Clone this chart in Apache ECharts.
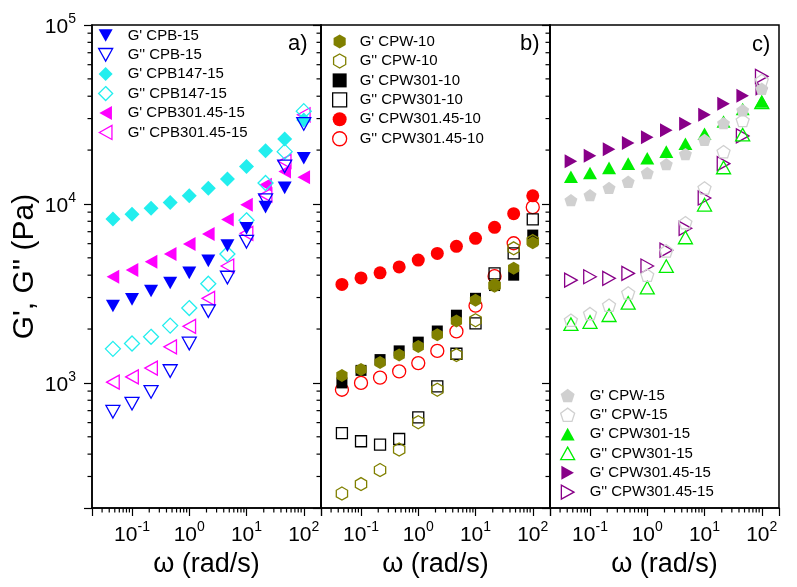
<!DOCTYPE html>
<html>
<head>
<meta charset="utf-8">
<script src="https://cdn.jsdelivr.net/npm/echarts@6/dist/echarts.min.js"></script>
<style>html,body{margin:0;padding:0;background:#fff}#c{width:797px;height:587px}</style>
</head>
<body>
<div id="c"></div>
<script>
// ---- data ----
const omega = [0.0464, 0.1, 0.215, 0.464, 1, 2.15, 4.64, 10, 21.5, 46.4, 100];

// panel a
const gp_CPB15       = [2690, 2930, 3260, 3620, 4120, 4810, 5850, 7300, 9600, 12300, 18000];
const gpp_CPB15      = [690, 765, 890, 1165, 1660, 2520, 3880, 6150, 10500, 16200, 28000];
const gp_CPB147_15   = [8240, 8750, 9460, 10200, 11100, 12250, 13800, 16200, 19800, 23100, 29500];
const gpp_CPB147_15  = [1550, 1660, 1810, 2090, 2620, 3580, 5250, 8100, 13100, 19600, 33000];
const gp_CPB301_45_15  = [3920, 4270, 4750, 5250, 5970, 6800, 8200, 9900, 12800, 15200, 14100];
const gpp_CPB301_45_15 = [1010, 1080, 1210, 1590, 2070, 2970, 4500, 6850, 11200, 17300, 31500];

// panel b
const gp_CPW10        = [1100, 1190, 1300, 1430, 1600, 1860, 2220, 2900, 3520, 4370, 6070];
const gpp_CPW10       = [241, 272, 326, 424, 603, 916, 1430, 2240, 3500, 5650, 6200];
const gp_CPW301_10    = [1000, 1175, 1350, 1510, 1690, 1950, 2390, 2970, 3500, 4000, 6700];
const gpp_CPW301_10   = [524, 472, 452, 486, 642, 956, 1455, 2150, 4090, 5290, 8200];
const gp_CPW301_45_10  = [3550, 3860, 4120, 4450, 4860, 5290, 5800, 6430, 7400, 8830, 11100];
const gpp_CPW301_45_10 = [916, 1000, 1070, 1160, 1290, 1510, 1940, 2700, 3950, 6030, 9600];

// panel c
const gp_CPW15        = [10500, 11200, 12300, 13300, 14900, 16700, 19000, 22800, 28300, 33400, 44000];
const gpp_CPW15       = [2240, 2440, 2720, 3180, 4000, 5470, 7860, 12300, 19600, 29300, 49000];
const gp_CPW301_15    = [14200, 14900, 15900, 16800, 18000, 19600, 21700, 24700, 28900, 33900, 37400];
const gpp_CPW301_15   = [2130, 2190, 2390, 2800, 3410, 4500, 6500, 9900, 16000, 24400, 37000];
const gp_CPW301_45_15  = [17300, 18600, 20200, 21900, 23600, 25800, 28100, 31500, 36300, 40300, 44000];
const gpp_CPW301_45_15 = [3750, 3920, 3840, 4090, 4500, 5520, 7310, 10800, 16800, 24000, 51600];

// axes
const xMin = 0.02, xMax = 200;
const yMin = 200, yMax = 100000;
const xMinorTicks = [0.03,0.04,0.05,0.06,0.07,0.08,0.09, 0.2,0.3,0.4,0.5,0.6,0.7,0.8,0.9, 2,3,4,5,6,7,8,9, 20,30,40,50,60,70,80,90];
const yMinorTicks = [300,400,500,600,700,800,900, 2000,3000,4000,5000,6000,7000,8000,9000, 20000,30000,40000,50000,60000,70000,80000,90000];

const panelLabels = ['a)', 'b)', 'c)'];
const yAxisName = "G', G'' (Pa)";
const xAxisName = 'ω (rad/s)';

// ---- style ----
const FONT = '"Liberation Sans", Arial, sans-serif';
const HEX = 'path://M0,-1 L0.866,-0.5 L0.866,0.5 L0,1 L-0.866,0.5 L-0.866,-0.5 Z';
const PENT = 'path://M0,-1 L0.951,-0.309 L0.588,0.809 L-0.588,0.809 L-0.951,-0.309 Z';
const TRI_UP = 'path://M0,-1 L1,0.8 L-1,0.8 Z';
const TRI_DOWN = 'path://M0,1 L1,-0.8 L-1,-0.8 Z';
const TRI_LEFT = 'path://M-1,0 L0.8,-1 L0.8,1 Z';
const TRI_RIGHT = 'path://M1,0 L-0.8,-1 L-0.8,1 Z';

const panels = [
  [
    {name: "G' CPB-15", vals: gp_CPB15, sym: TRI_DOWN, color: '#0000FF', filled: true, size: 14},
    {name: "G'' CPB-15", vals: gpp_CPB15, sym: TRI_DOWN, color: '#0000FF', filled: false, size: 14},
    {name: "G' CPB147-15", vals: gp_CPB147_15, sym: 'diamond', color: '#22EEEE', filled: true, size: 15},
    {name: "G'' CPB147-15", vals: gpp_CPB147_15, sym: 'diamond', color: '#22EEEE', filled: false, size: 15},
    {name: "G' CPB301.45-15", vals: gp_CPB301_45_15, sym: TRI_LEFT, color: '#FF00FF', filled: true, size: 14},
    {name: "G'' CPB301.45-15", vals: gpp_CPB301_45_15, sym: TRI_LEFT, color: '#FF00FF', filled: false, size: 14}
  ],
  [
    {name: "G' CPW-10", vals: gp_CPW10, sym: HEX, color: '#808000', filled: true, size: 13},
    {name: "G'' CPW-10", vals: gpp_CPW10, sym: HEX, color: '#808000', filled: false, size: 13},
    {name: "G' CPW301-10", vals: gp_CPW301_10, sym: 'rect', color: '#000000', filled: true, size: 11},
    {name: "G'' CPW301-10", vals: gpp_CPW301_10, sym: 'rect', color: '#000000', filled: false, size: 11},
    {name: "G' CPW301.45-10", vals: gp_CPW301_45_10, sym: 'circle', color: '#FF0000', filled: true, size: 13},
    {name: "G'' CPW301.45-10", vals: gpp_CPW301_45_10, sym: 'circle', color: '#FF0000', filled: false, size: 13}
  ],
  [
    {name: "G' CPW-15", vals: gp_CPW15, sym: PENT, color: '#D0D0D0', filled: true, size: 13},
    {name: "G'' CPW-15", vals: gpp_CPW15, sym: PENT, color: '#D0D0D0', filled: false, size: 13},
    {name: "G' CPW301-15", vals: gp_CPW301_15, sym: TRI_UP, color: '#00EE00', filled: true, size: 14},
    {name: "G'' CPW301-15", vals: gpp_CPW301_15, sym: TRI_UP, color: '#00EE00', filled: false, size: 14},
    {name: "G' CPW301.45-15", vals: gp_CPW301_45_15, sym: TRI_RIGHT, color: '#880088', filled: true, size: 14},
    {name: "G'' CPW301.45-15", vals: gpp_CPW301_45_15, sym: TRI_RIGHT, color: '#880088', filled: false, size: 14}
  ]
];

const gridLefts = [92, 321, 550];
const gridW = 229, gridTop = 25, gridH = 483;

function powLabel(v) {
  const e = Math.log10(v);
  const r = Math.round(e);
  if (Math.abs(e - r) > 1e-6) return '';
  return '{b|10}{s|' + r + '}';
}
const richLabel = {
  b: {fontSize: 21, fontFamily: FONT, color: '#000', lineHeight: 26, verticalAlign: 'bottom'},
  s: {fontSize: 14, fontFamily: FONT, color: '#000', lineHeight: 14, verticalAlign: 'top'}
};

function styleOf(s) {
  return s.filled ? {color: s.color, borderWidth: 0, opacity: 1}
                  : {color: 'rgba(255,255,255,0)', borderColor: s.color, borderWidth: 1.3, opacity: 1};
}

const grid = [], xAxis = [], yAxis = [], series = [], legend = [], graphic = [];
const legendPos = [
  {left: 98, top: 28, pad: 10},
  {left: 332, top: 34, pad: 8},
  {left: 560, top: 388, pad: 10}
];
const labelPos = [{left: 288, top: 33}, {left: 520, top: 33}, {left: 752, top: 34}];

panels.forEach((p, i) => {
  grid.push({left: gridLefts[i], top: gridTop, width: gridW, height: gridH, show: true,
    borderColor: '#000', borderWidth: 1.5, backgroundColor: 'transparent'});
  xAxis.push({
    type: 'log', logBase: 10, gridIndex: i, min: xMin, max: xMax,
    name: xAxisName, nameLocation: 'middle', nameGap: 43,
    nameTextStyle: {fontSize: 27, fontFamily: FONT, color: '#000'},
    axisLine: {show: true, lineStyle: {color: '#000', width: 1.5}},
    axisTick: {show: true, inside: false, length: 8, lineStyle: {color: '#000', width: 1.2}},
    axisLabel: {show: true, margin: 12, formatter: powLabel, rich: richLabel, color: '#000'},
    splitLine: {show: false}
  });
  yAxis.push({
    type: 'log', logBase: 10, gridIndex: i, min: yMin, max: yMax,
    name: i === 0 ? yAxisName : '', nameLocation: 'middle', nameGap: 52, nameRotate: 90,
    nameTextStyle: {fontSize: 30, fontFamily: FONT, color: '#000'},
    axisLine: {show: true, lineStyle: {color: '#000', width: 1.5}},
    axisTick: {show: true, inside: false, length: 8, lineStyle: {color: '#000', width: 1.2}},
    axisLabel: {show: i === 0, margin: 16, formatter: powLabel, rich: richLabel, color: '#000'},
    splitLine: {show: false}
  });
  // draw in reverse legend order so first legend entries are on top
  p.slice().reverse().forEach(s => {
    series.push({
      type: 'scatter', name: s.name, xAxisIndex: i, yAxisIndex: i,
      data: omega.map((w, k) => [w, s.vals[k]]),
      symbol: s.sym, symbolSize: s.size, symbolKeepAspect: true,
      itemStyle: styleOf(s),
      emphasis: {disabled: true}, silent: true
    });
  });
  // minor ticks
  series.push({
    type: 'custom', xAxisIndex: i, yAxisIndex: i, silent: true, clip: false, z: 5,
    data: xMinorTicks.map(v => [v, 1000]),
    renderItem: function (params, api) {
      const cs = params.coordSys;
      const px = api.coord([api.value(0), 1000])[0];
      const yb = cs.y + cs.height;
      return {type: 'line', shape: {x1: px, y1: yb, x2: px, y2: yb + 4.5}, style: {stroke: '#000', lineWidth: 1.2}};
    }
  });
  series.push({
    type: 'custom', xAxisIndex: i, yAxisIndex: i, silent: true, clip: false, z: 5,
    data: yMinorTicks.map(v => [1, v]),
    renderItem: function (params, api) {
      const cs = params.coordSys;
      const py = api.coord([1, api.value(1)])[1];
      return {type: 'line', shape: {x1: cs.x - 4.5, y1: py, x2: cs.x, y2: py}, style: {stroke: '#000', lineWidth: 1.2}};
    }
  });
  legend.push({
    orient: 'vertical', left: legendPos[i].left, top: legendPos[i].top,
    data: p.map(s => ({name: s.name, icon: s.sym, itemStyle: styleOf(s)})),
    itemWidth: 14, itemHeight: 14, itemGap: 4.3,
    padding: 0, selectedMode: false,
    textStyle: {fontSize: 15, fontFamily: FONT, color: '#000', padding: [0, 0, 0, legendPos[i].pad]}
  });
  graphic.push({type: 'text', left: labelPos[i].left, top: labelPos[i].top,
    style: {text: panelLabels[i], font: '22px ' + FONT, fill: '#000'}});
});

const chart = echarts.init(document.getElementById('c'), null, {renderer: 'canvas'});
chart.setOption({
  animation: false,
  backgroundColor: '#fff',
  grid, xAxis, yAxis, series, legend, graphic
});
</script>
</body>
</html>
